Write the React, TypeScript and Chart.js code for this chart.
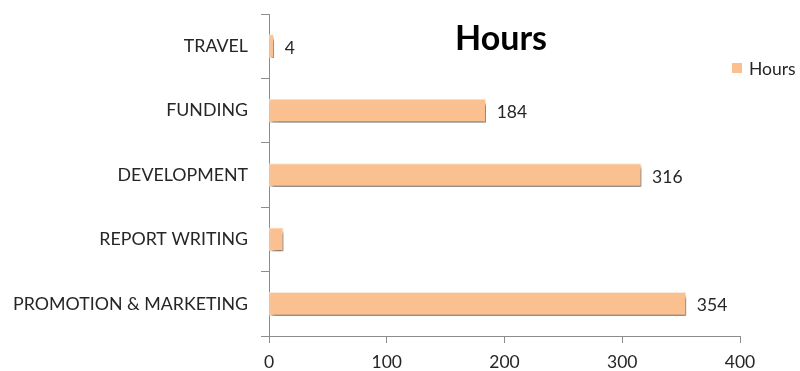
import React, { useEffect, useRef } from "react";
import { Chart, registerables } from "chart.js";

Chart.register(...registerables);

const categories = ["TRAVEL", "FUNDING", "DEVELOPMENT", "REPORT WRITING", "PROMOTION & MARKETING"];
const hours = [4, 184, 316, 12, 354];
// value labels printed beside each bar (null = no label)
const valueLabels: (number | null)[] = [4, 184, 316, null, 354];
const xTicks = [0, 100, 200, 300, 400];

const FONT = "Lato, 'Liberation Sans', sans-serif";
const BAR_FILL = "#FAC090";
const AXIS_GRAY = "#8C8C8C";
const TEXT = "#262626";

const barShadow = {
  id: "barShadow",
  beforeDatasetsDraw(chart: any) {
    const ctx = chart.ctx;
    ctx.save();
    ctx.shadowColor = "rgba(0,0,0,0.55)";
    ctx.shadowBlur = 3;
    ctx.shadowOffsetX = 2;
    ctx.shadowOffsetY = 4;
  },
  afterDatasetsDraw(chart: any) {
    chart.ctx.restore();
  },
};

const overlay = {
  id: "overlay",
  afterDraw(chart: any) {
    const ctx = chart.ctx;
    const meta = chart.getDatasetMeta(0);
    ctx.save();
    // value labels
    ctx.font = `17.5px ${FONT}`;
    ctx.fillStyle = TEXT;
    ctx.textAlign = "left";
    ctx.textBaseline = "middle";
    meta.data.forEach((bar: any, i: number) => {
      const v = valueLabels[i];
      if (v === null) return;
      ctx.fillText(String(v), bar.x + 11, bar.y + 2);
    });
    // title
    ctx.font = `bold 34px ${FONT}`;
    ctx.textAlign = "center";
    ctx.fillStyle = "#000000";
    ctx.fillText("Hours", 501, 39);
    // legend
    ctx.fillStyle = BAR_FILL;
    ctx.fillRect(732, 63, 10, 10);
    ctx.font = `17.5px ${FONT}`;
    ctx.fillStyle = TEXT;
    ctx.textAlign = "left";
    ctx.fillText("Hours", 749, 69);
    ctx.restore();
  },
};

export default function App() {
  const ref = useRef<HTMLCanvasElement>(null);

  useEffect(() => {
    if (!ref.current) return;
    const chart = new Chart(ref.current, {
      type: "bar",
      data: {
        labels: categories,
        datasets: [
          {
            label: "Hours",
            data: hours,
            backgroundColor: BAR_FILL,
            borderColor: "#FDE9D9",
            borderWidth: 1,
            borderSkipped: false,
            barThickness: 23,
          },
        ],
      },
      options: {
        indexAxis: "y",
        responsive: false,
        animation: false,
        layout: { padding: { left: 0, right: 60, top: 14, bottom: 0 } },
        plugins: {
          legend: { display: false },
          title: { display: false },
          tooltip: { enabled: false },
        },
        scales: {
          x: {
            min: 0,
            max: 400,
            afterBuildTicks: (scale: any) => {
              scale.ticks = xTicks.map((v) => ({ value: v }));
            },
            afterFit: (scale: any) => {
              scale.height = 35;
              scale.paddingLeft = 0;
              scale.paddingRight = 0;
            },
            grid: {
              drawOnChartArea: false,
              drawTicks: true,
              tickLength: 7,
              color: AXIS_GRAY,
            },
            border: { display: true, color: AXIS_GRAY },
            ticks: {
              color: TEXT,
              font: { family: FONT, size: 17.5 },
              padding: 9,
              maxRotation: 0,
            },
          },
          y: {
            afterFit: (scale: any) => {
              scale.width = 269;
              scale.paddingTop = 0;
              scale.paddingBottom = 0;
            },
            grid: {
              offset: true,
              drawOnChartArea: false,
              drawTicks: true,
              tickLength: 8,
              color: AXIS_GRAY,
            },
            border: { display: true, color: AXIS_GRAY },
            ticks: {
              color: TEXT,
              font: { family: FONT, size: 17.8 },
              padding: 13,
            },
          },
        },
      },
      plugins: [barShadow, overlay],
    });
    return () => chart.destroy();
  }, []);

  return (
    <div style={{ position: "fixed", left: 0, top: 0, width: 800, height: 371, background: "#fff" }}>
      <canvas ref={ref} width={800} height={371} />
    </div>
  );
}
